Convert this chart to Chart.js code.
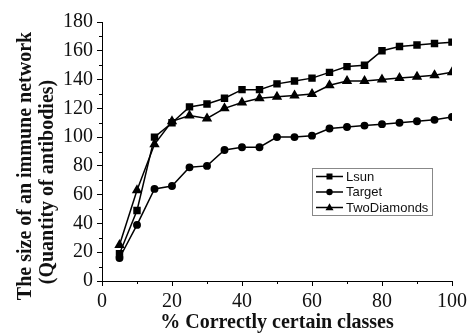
<!DOCTYPE html>
<html>
<head>
<meta charset="utf-8">
<script src="https://cdn.jsdelivr.net/npm/chart.js@4"></script>
<style>
  html, body { margin: 0; padding: 0; background: #fff; }
  #wrap { width: 473px; height: 336px; }
</style>
</head>
<body>
<div id="wrap"><canvas id="report"></canvas></div>
<script>
// % correctly certain classes
const classes = [5, 10, 15, 20, 25, 30, 35, 40, 45, 50, 55, 60, 65, 70, 75, 80, 85, 90, 95, 100];
const lsun = [19, 49, 100, 110, 121, 123, 127, 133, 133, 137, 139, 141, 145, 149, 150, 160, 163, 164, 165, 166];
const target = [16, 39, 64, 66, 79, 80, 91, 93, 93, 100, 100, 101, 106, 107, 108, 109, 110, 111, 112, 114];
const twoDiamonds = [25, 63, 95, 111, 115, 113, 120, 124, 127, 128, 129, 130, 136, 139, 139, 140, 141, 142, 143, 145];
const xMinorTicks = [10, 30, 50, 70, 90];
const yMinorTicks = [10, 30, 50, 70, 90, 110, 130, 150, 170];

const SERIF = "'Liberation Serif', 'Times New Roman', serif";
const SANS = "'Liberation Sans', Arial, sans-serif";

function points(values) {
    return classes.map((c, i) => ({ x: c, y: values[i] }));
}

function marker(ctx, style, x, y) {
    ctx.beginPath();
    if (style === 'rect') {
        ctx.rect(x - 3, y - 3, 6, 6);
    } else if (style === 'circle') {
        ctx.arc(x, y, 3.2, 0, Math.PI * 2);
    } else {
        ctx.moveTo(x, y - 4.2);
        ctx.lineTo(x + 4, y + 2.8);
        ctx.lineTo(x - 4, y + 2.8);
        ctx.closePath();
    }
    ctx.fill();
}

// minor ticks, y title and the boxed legend
const extras = {
    id: 'extras',
    afterDraw(chart) {
        const ctx = chart.ctx;
        const xs = chart.scales.x, ys = chart.scales.y;
        const area = chart.chartArea;
        ctx.save();
        ctx.strokeStyle = '#000';
        ctx.lineWidth = 1;
        ctx.beginPath();
        yMinorTicks.forEach(v => {
            const py = Math.round(ys.getPixelForValue(v)) + 0.5;
            ctx.moveTo(area.left - 3, py);
            ctx.lineTo(area.left, py);
        });
        xMinorTicks.forEach(v => {
            const px = Math.round(xs.getPixelForValue(v)) + 0.5;
            ctx.moveTo(px, area.bottom);
            ctx.lineTo(px, area.bottom + 3);
        });
        ctx.stroke();

        // y axis title, two lines
        ctx.fillStyle = '#111';
        ctx.font = 'bold 20px ' + SERIF;
        ctx.textAlign = 'center';
        ctx.textBaseline = 'alphabetic';
        ctx.save();
        ctx.translate(31, 166);
        ctx.rotate(-Math.PI / 2);
        ctx.fillText('The size of an immune network', 0, 0);
        ctx.restore();
        ctx.save();
        ctx.translate(53, 182);
        ctx.rotate(-Math.PI / 2);
        ctx.fillText('(Quantity of antibodies)', 0, 0);
        ctx.restore();

        // legend
        ctx.strokeStyle = '#888';
        ctx.strokeRect(312.5, 168.5, 120, 47);
        ctx.font = '13px ' + SANS;
        ctx.textAlign = 'left';
        ctx.textBaseline = 'middle';
        chart.data.datasets.forEach((ds, i) => {
            const y = 176.5 + i * 15.5;
            ctx.strokeStyle = '#000';
            ctx.lineWidth = 1.5;
            ctx.beginPath();
            ctx.moveTo(316, y);
            ctx.lineTo(343, y);
            ctx.stroke();
            ctx.fillStyle = '#000';
            marker(ctx, ds.pointStyle, 329.5, y);
            ctx.fillStyle = '#111';
            ctx.fillText(ds.label, 346, y + 0.5);
        });
        ctx.restore();
    }
};

const CHART = document.getElementById("report");
const lineChart = new Chart(CHART, {
    type: 'line',
    data: {
        datasets: [
            {
                label: 'Lsun',
                data: points(lsun),
                borderColor: '#000',
                backgroundColor: '#000',
                borderWidth: 1.5,
                pointStyle: 'rect',
                pointRadius: 4.2
            },
            {
                label: 'Target',
                data: points(target),
                borderColor: '#000',
                backgroundColor: '#000',
                borderWidth: 1.5,
                pointStyle: 'circle',
                pointRadius: 3.2
            },
            {
                label: 'TwoDiamonds',
                data: points(twoDiamonds),
                borderColor: '#000',
                backgroundColor: '#000',
                borderWidth: 1.5,
                pointStyle: 'triangle',
                pointRadius: 4.5
            }
        ]
    },
    options: {
        responsive: true,
        maintainAspectRatio: false,
        animation: false,
        layout: { padding: { top: 22, right: 21, left: 0, bottom: 0 } },
        plugins: {
            legend: { display: false },
            tooltip: { enabled: false }
        },
        scales: {
            x: {
                type: 'linear',
                min: 0,
                max: 100,
                afterFit: s => { s.height = 55; },
                ticks: {
                    stepSize: 20,
                    color: '#111',
                    padding: 4,
                    font: { family: SERIF, size: 20 }
                },
                grid: { drawOnChartArea: false, drawTicks: true, tickLength: 5, color: '#000' },
                border: { display: true, color: '#000', width: 1 },
                title: {
                    display: true,
                    text: '% Correctly certain classes',
                    color: '#111',
                    font: { family: SERIF, size: 20, weight: 'bold' },
                    padding: { top: 0, bottom: 1 }
                }
            },
            y: {
                min: 0,
                max: 180,
                afterFit: s => { s.width = 102; },
                ticks: {
                    stepSize: 20,
                    color: '#111',
                    padding: 4,
                    font: { family: SERIF, size: 20 }
                },
                grid: { drawOnChartArea: false, drawTicks: true, tickLength: 5, color: '#000' },
                border: { display: true, color: '#000', width: 1 }
            }
        }
    },
    plugins: [extras]
});
</script>
</body>
</html>
